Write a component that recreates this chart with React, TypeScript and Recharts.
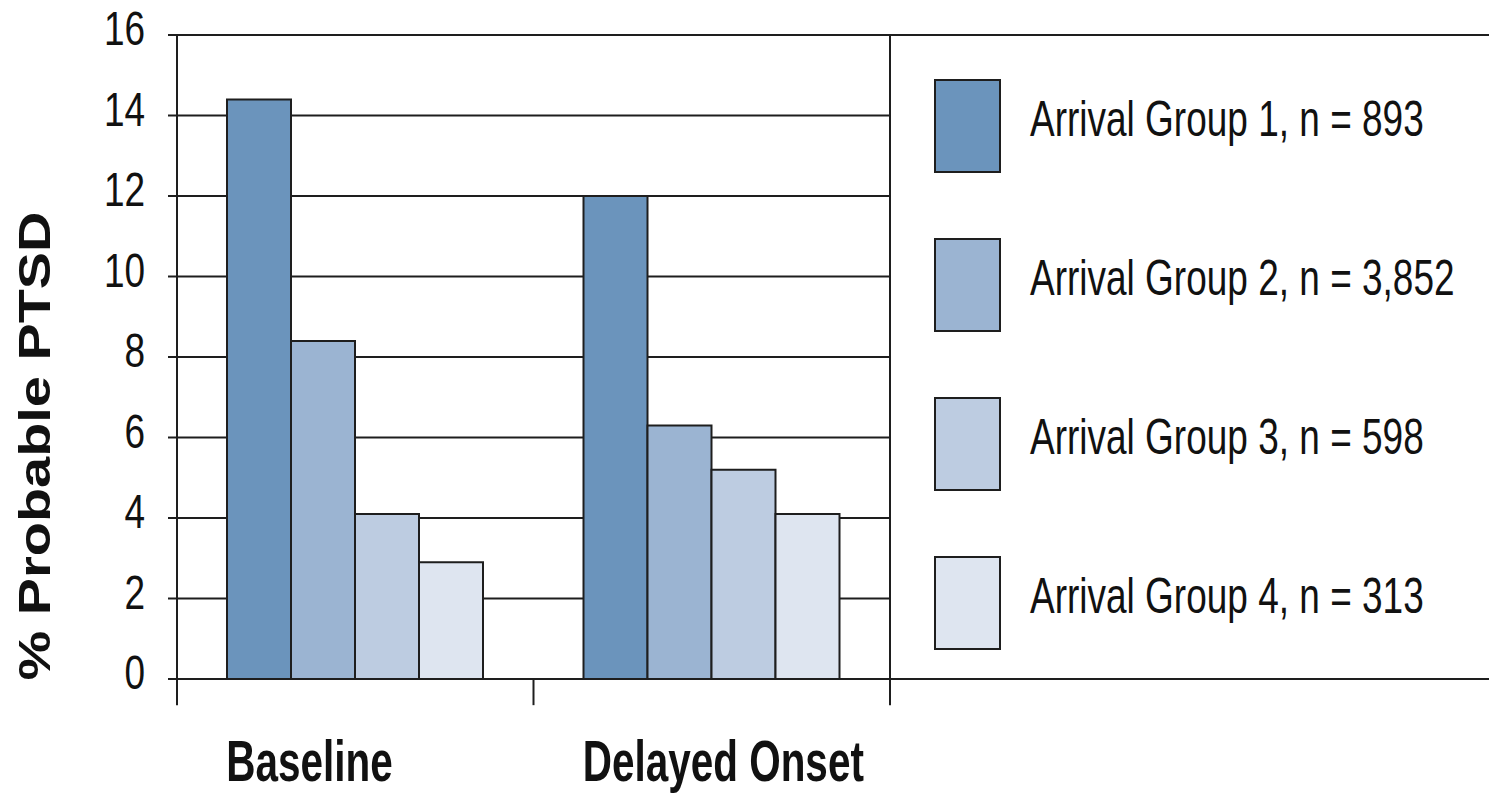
import React from 'react';
import { BarChart, Bar, XAxis, YAxis, CartesianGrid, ReferenceLine } from 'recharts';

const categories = ['Baseline', 'Delayed Onset'];
const group1 = [14.4, 12.0];
const group2 = [8.4, 6.3];
const group3 = [4.1, 5.2];
const group4 = [2.9, 4.1];
const seriesNames = [
  'Arrival Group 1, n = 893',
  'Arrival Group 2, n = 3,852',
  'Arrival Group 3, n = 598',
  'Arrival Group 4, n = 313',
];
const seriesColors = ['#6b94bc', '#9bb4d2', '#bdcce1', '#dee5f0'];
const yTicks = [0, 2, 4, 6, 8, 10, 12, 14, 16];

const data = categories.map((name, i) => ({
  name,
  g1: group1[i],
  g2: group2[i],
  g3: group3[i],
  g4: group4[i],
}));
const seriesKeys = ['g1', 'g2', 'g3', 'g4'];

const INK = '#1e1e1e';
const FONT = "'Liberation Sans', Arial, sans-serif";
const W = 1497;
const H = 793;

// hidden fraction axis: 0 = left edge of plot, 1 = right edge
const boundaryTicks = [0, 0.5];
const FRAME_END = 1.86; // frame lines run on to the right edge past the legend
const TICK_DROP = -0.65;

const YTick = ({ x, y, payload }: any) => (
  <text
    transform={`translate(${x},${y + 10}) scale(0.77,1)`}
    textAnchor="end"
    fontFamily={FONT}
    fontSize={48}
    fill="#111"
  >
    {payload.value}
  </text>
);

const XTick = ({ x, y, payload }: any) => (
  <text
    transform={`translate(${x - 129},${y + 102}) scale(0.71,1)`}
    textAnchor="start"
    fontFamily={FONT}
    fontWeight="bold"
    fontSize={57}
    fill="#111"
  >
    {payload.value}
  </text>
);

const YLabel = () => (
  <text
    transform="translate(50,446) rotate(-90) scale(1.27,1)"
    textAnchor="middle"
    fontFamily={FONT}
    fontWeight="bold"
    fontSize={44}
    fill="#111"
  >
    % Probable PTSD
  </text>
);

function LegendBox() {
  return (
    <svg
      width={W}
      height={H}
      style={{ position: 'absolute', left: 0, top: 0, pointerEvents: 'none' }}
    >
      {seriesNames.map((name, i) => (
        <g key={name} transform={`translate(935,${80 + i * 159})`}>
          <rect x={0} y={0} width={65} height={92} fill={seriesColors[i]} stroke={INK} strokeWidth={2} />
          <text
            transform="translate(95,56) scale(0.74,1)"
            fontFamily={FONT}
            fontSize={50}
            fill="#111"
          >
            {name}
          </text>
        </g>
      ))}
    </svg>
  );
}

export default function App() {
  return (
    <div style={{ position: 'relative', width: W, height: H, margin: '-8px 0 0 -8px', background: '#fff' }}>
      <BarChart
        width={W}
        height={H}
        data={data}
        margin={{ top: 35, right: 607, left: 0, bottom: 0 }}
        barCategoryGap={50}
        barGap={0}
      >
        <CartesianGrid vertical={false} stroke={INK} strokeWidth={2} />
        <XAxis
          dataKey="name"
          xAxisId="cat"
          height={114}
          axisLine={{ stroke: INK, strokeWidth: 2 }}
          tickLine={false}
          tickSize={0}
          tickMargin={0}
          tick={<XTick />}
          interval={0}
        />
        <XAxis xAxisId="frac" type="number" domain={[0, 1]} allowDataOverflow hide />
        <YAxis
          width={177}
          domain={[0, 16]}
          ticks={yTicks}
          interval={0}
          axisLine={{ stroke: INK, strokeWidth: 2 }}
          tickLine={{ stroke: INK, strokeWidth: 2 }}
          tickSize={9}
          tickMargin={23}
          tick={<YTick />}
          label={<YLabel />}
        />
        {seriesKeys.map((k, i) => (
          <Bar
            key={k}
            dataKey={k}
            name={seriesNames[i]}
            xAxisId="cat"
            fill={seriesColors[i]}
            stroke={INK}
            strokeWidth={2}
            isAnimationActive={false}
          />
        ))}
        {boundaryTicks.map((b) => (
          <ReferenceLine
            key={`tick-${b}`}
            xAxisId="frac"
            ifOverflow="visible"
            segment={[{ x: b, y: 0 }, { x: b, y: TICK_DROP }]}
            stroke={INK}
            strokeWidth={2}
          />
        ))}
        {/* divider between plot and legend area */}
        <ReferenceLine
          xAxisId="frac"
          ifOverflow="visible"
          segment={[{ x: 1, y: 16 }, { x: 1, y: TICK_DROP }]}
          stroke={INK}
          strokeWidth={2}
        />
        <ReferenceLine
          xAxisId="frac"
          ifOverflow="visible"
          segment={[{ x: 1, y: 16 }, { x: FRAME_END, y: 16 }]}
          stroke={INK}
          strokeWidth={2}
        />
        <ReferenceLine
          xAxisId="frac"
          ifOverflow="visible"
          segment={[{ x: 1, y: 0 }, { x: FRAME_END, y: 0 }]}
          stroke={INK}
          strokeWidth={2}
        />
      </BarChart>
      <LegendBox />
    </div>
  );
}
